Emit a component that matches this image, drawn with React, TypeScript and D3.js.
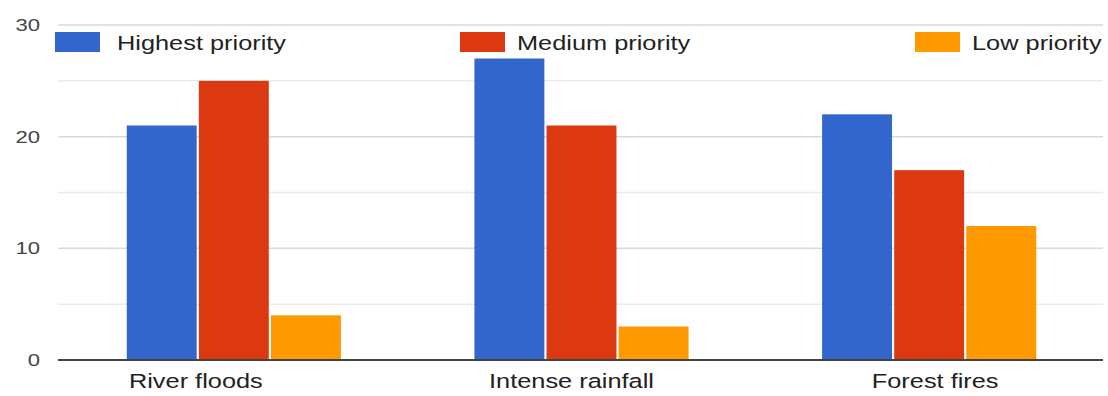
import React, { useEffect, useRef } from 'react';
import * as d3 from 'd3';

const categories = ['River floods', 'Intense rainfall', 'Forest fires'];
const seriesNames = ['Highest priority', 'Medium priority', 'Low priority'];
const highest = [21, 27, 22];
const medium = [25, 21, 17];
const low = [4, 3, 12];
const yTicks = [0, 10, 20, 30];
const gridTicks = [5, 10, 15, 20, 25, 30];

const colors = ['#3366cc', '#dc3912', '#ff9900'];

const App: React.FC = () => {
  const ref = useRef<SVGSVGElement>(null);

  useEffect(() => {
    if (!ref.current) return;
    const svg = d3.select(ref.current);
    svg.selectAll('*').remove();

    const font = 'Arial, "Liberation Sans", sans-serif';
    const stretch = 1.3; // text in the picture is wider than it is tall

    const left = 58;
    const right = 1103;
    const y = d3.scaleLinear().domain([0, 30]).range([360, 25]);
    const x0 = d3
      .scaleBand<string>()
      .domain(categories)
      .range([60, right])
      .paddingInner(0.384)
      .paddingOuter(0.192);
    const x1 = d3
      .scaleBand<string>()
      .domain(seriesNames)
      .range([0, x0.bandwidth()])
      .paddingInner(0.03);

    const values = [highest, medium, low];
    const rows = categories.map((c, i) => ({
      category: c,
      vals: seriesNames.map((s, j) => ({ series: s, value: values[j][i], color: colors[j] })),
    }));

    // gridlines
    svg
      .append('g')
      .selectAll('line')
      .data(gridTicks)
      .enter()
      .append('line')
      .attr('x1', left)
      .attr('x2', right)
      .attr('y1', (d) => y(d))
      .attr('y2', (d) => y(d))
      .attr('stroke', (d) => (d % 10 === 0 ? '#d9d9d9' : '#ebebeb'))
      .attr('stroke-width', 1.5);

    // bars
    const groups = svg
      .append('g')
      .selectAll('g')
      .data(rows)
      .enter()
      .append('g')
      .attr('transform', (d) => `translate(${x0(d.category)},0)`);

    groups
      .selectAll('rect')
      .data((d) => d.vals)
      .enter()
      .append('rect')
      .attr('x', (d) => x1(d.series) as number)
      .attr('y', (d) => y(d.value))
      .attr('width', x1.bandwidth())
      .attr('height', (d) => y(0) - y(d.value))
      .attr('fill', (d) => d.color);

    // baseline
    svg
      .append('line')
      .attr('x1', left)
      .attr('x2', right)
      .attr('y1', y(0))
      .attr('y2', y(0))
      .attr('stroke', '#444')
      .attr('stroke-width', 2);

    // y tick labels
    svg
      .append('g')
      .selectAll('text')
      .data(yTicks)
      .enter()
      .append('text')
      .attr('transform', (d) => `translate(40,${y(d) + 6}) scale(${stretch},1)`)
      .attr('text-anchor', 'end')
      .attr('font-family', font)
      .attr('font-size', 17)
      .attr('fill', '#444')
      .text((d) => d);

    // x labels
    const labelShift = [-38, -10, 6];
    svg
      .append('g')
      .selectAll('text')
      .data(categories)
      .enter()
      .append('text')
      .attr(
        'transform',
        (d, i) =>
          `translate(${(x0(d) as number) + x0.bandwidth() / 2 + labelShift[i]},388) scale(${stretch},1)`
      )
      .attr('text-anchor', 'middle')
      .attr('font-family', font)
      .attr('font-size', 19.5)
      .attr('fill', '#222')
      .text((d) => d);

    // legend
    const legendX = [55, 460, 915];
    const legend = svg
      .append('g')
      .selectAll('g')
      .data(seriesNames)
      .enter()
      .append('g')
      .attr('transform', (d, i) => `translate(${legendX[i]},32)`);

    legend
      .append('rect')
      .attr('width', 45)
      .attr('height', 20)
      .attr('fill', (d, i) => colors[i]);

    legend
      .append('text')
      .attr('transform', (d, i) => `translate(${i === 0 ? 62 : 57},18) scale(${stretch},1)`)
      .attr('font-family', font)
      .attr('font-size', 19.5)
      .attr('fill', '#222')
      .text((d) => d);
  }, []);

  return (
    <svg
      ref={ref}
      width={1108}
      height={396}
      style={{ position: 'absolute', left: 0, top: 0, background: '#fff' }}
    />
  );
};

export default App;
